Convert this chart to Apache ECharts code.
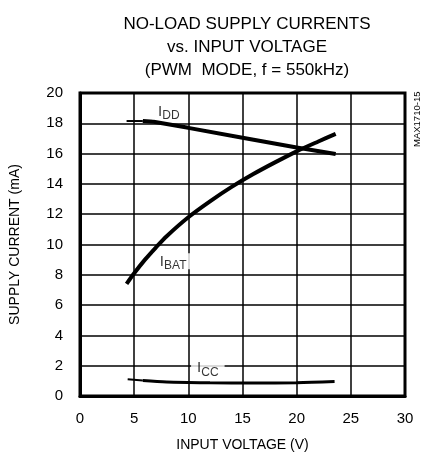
<!DOCTYPE html>
<html>
<head>
<meta charset="utf-8">
<script src="https://cdn.jsdelivr.net/npm/echarts@6/dist/echarts.min.js"></script>
<style>
  html, body { margin: 0; padding: 0; background: #fff; }
  #chart { width: 427px; height: 457px; }
</style>
</head>
<body>
<div id="chart"></div>
<script>
// Supply current (mA) against input voltage (V)
const iddData = [[4.3, 18.15], [5.8, 18.15], [6.8, 18.1], [10, 17.7], [15, 17.05], [20, 16.4], [23.6, 15.97]];
const ibatData = [[4.3, 7.4], [5, 8.1], [6, 9.0], [7, 9.8], [8, 10.55], [10, 11.8], [12, 12.85], [14, 13.8], [16, 14.65], [18, 15.42], [20, 16.15], [22, 16.8], [23.6, 17.3]];
const iccData = [[4.4, 1.1], [5.8, 1.02], [8, 0.93], [12, 0.88], [16, 0.86], [20, 0.88], [23.5, 0.95]];
const xTicks = [0, 5, 10, 15, 20, 25, 30];
const yTicks = [0, 2, 4, 6, 8, 10, 12, 14, 16, 18, 20];
const curveLabels = [
  { name: 'I', sub: 'DD', at: [8.2, 18.8] },
  { name: 'I', sub: 'BAT', at: [8.6, 8.9] },
  { name: 'I', sub: 'CC', at: [11.8, 1.9] }
];

const FONT = '"Liberation Sans", Arial, sans-serif';
const chart = echarts.init(document.getElementById('chart'));

// the first stretch of the IDD and ICC traces is drawn thinner
const lineSeries = (data, width, smooth) => ({
  type: 'line', data, smooth, symbol: 'none',
  lineStyle: { color: '#000', width }, z: 5
});

chart.setOption({
  animation: false,
  title: {
    text: 'NO-LOAD SUPPLY CURRENTS\nvs. INPUT VOLTAGE\n(PWM  MODE, f = 550kHz)',
    left: 242, top: 8, textAlign: 'center',
    textStyle: { fontFamily: FONT, fontSize: 17, fontWeight: 'normal', color: '#000', lineHeight: 23 }
  },
  grid: { left: 80, top: 93, width: 325, height: 311, show: true, borderColor: '#000', borderWidth: 3 },
  xAxis: {
    type: 'value', min: xTicks[0], max: xTicks[xTicks.length - 1], interval: 5,
    name: 'INPUT VOLTAGE (V)', nameLocation: 'middle', nameGap: 42,
    nameTextStyle: { fontFamily: FONT, fontSize: 14, color: '#000' },
    axisLine: { lineStyle: { color: '#000', width: 3 } },
    axisTick: { show: false },
    axisLabel: { fontFamily: FONT, fontSize: 15, color: '#000', margin: 15 },
    splitLine: { lineStyle: { color: '#000', width: 1.5 } }
  },
  yAxis: {
    type: 'value', min: yTicks[0], max: yTicks[yTicks.length - 1], interval: 2,
    name: 'SUPPLY CURRENT (mA)', nameLocation: 'middle', nameGap: 58,
    nameTextStyle: { fontFamily: FONT, fontSize: 14, color: '#000' },
    axisLine: { lineStyle: { color: '#000', width: 3 } },
    axisTick: { show: false },
    axisLabel: { fontFamily: FONT, fontSize: 15, color: '#000', margin: 17 },
    splitLine: { lineStyle: { color: '#000', width: 1.5 } }
  },
  graphic: [{
    type: 'text', x: 412, y: 147, rotation: Math.PI / 2,
    style: { text: 'MAX1710-15', fontFamily: FONT, fontSize: 9.5, fill: '#000' }
  }],
  series: [
    lineSeries(iddData.slice(0, 2), 2, false),
    lineSeries(iddData.slice(1), 4, false),
    lineSeries(ibatData, 4, 0.3),
    lineSeries(iccData.slice(0, 2), 2, false),
    lineSeries(iccData.slice(1), 3, 0.3),
    {
      type: 'scatter', symbolSize: 0, z: 10,
      data: curveLabels.map(l => ({ value: l.at })),
      label: {
        show: true, position: 'inside',
        formatter: p => '{m|' + curveLabels[p.dataIndex].name + '}{s|' + curveLabels[p.dataIndex].sub + '}',
        backgroundColor: '#fff', padding: [0, 6, 0, 6],
        rich: {
          m: { fontFamily: FONT, fontSize: 15, color: '#000', verticalAlign: 'bottom', lineHeight: 16 },
          s: { fontFamily: FONT, fontSize: 12, color: '#000', verticalAlign: 'bottom', lineHeight: 12, padding: [0, 0, -3, 0] }
        }
      }
    }
  ]
});
</script>
</body>
</html>
